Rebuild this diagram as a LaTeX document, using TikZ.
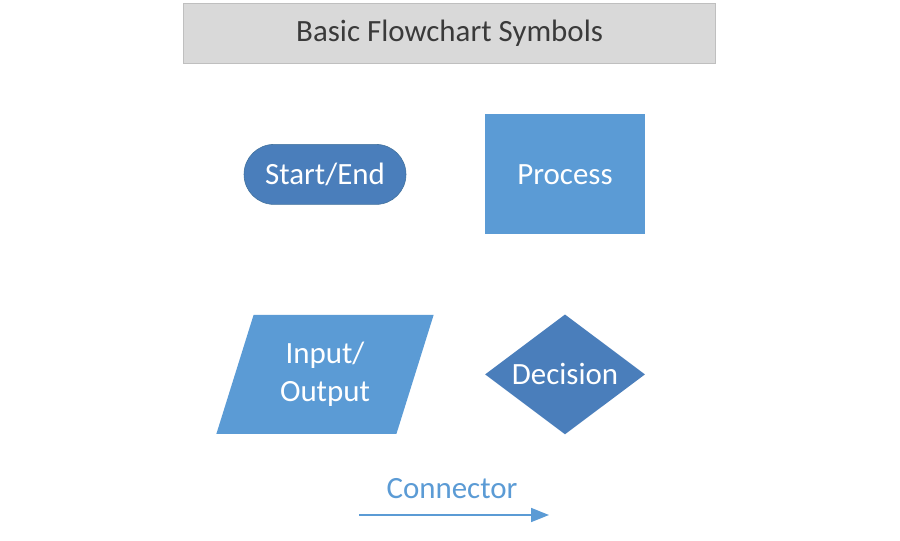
\documentclass[tikz,border=0pt]{standalone}
\usepackage{fontspec}
\setmainfont{Carlito}
\usepackage{tikz}
\usetikzlibrary{arrows.meta,shapes,positioning,calc}
\definecolor{titlegray}{HTML}{D9D9D9}
\definecolor{titleline}{HTML}{BFBFBF}
\definecolor{titletext}{HTML}{3A3A3A}
\definecolor{darkblue}{HTML}{4A7EBB}
\definecolor{lightblue}{HTML}{5B9BD5}
\definecolor{edgeblue}{HTML}{41719C}
\tikzset{
    heading/.style={
        rectangle,
        draw=titleline,
        fill=titlegray,
        line width=1pt,
        text=titletext,
        minimum width=13.3cm,
        minimum height=1.5cm,
        font=\fontsize{22}{26}\selectfont,
    },
    terminal/.style={
        rectangle,
        rounded corners=0.75cm,
        draw=edgeblue,
        fill=darkblue,
        text=white,
        minimum width=4.05cm,
        minimum height=1.5cm,
        font=\fontsize{22}{26}\selectfont,
    },
    proc/.style={
        rectangle,
        fill=lightblue,
        text=white,
        minimum width=4cm,
        minimum height=3cm,
        font=\fontsize{22}{26}\selectfont,
    },
    inout/.style={
        trapezium,
        trapezium left angle=70,
        trapezium right angle=110,
        trapezium stretches=true,
        fill=lightblue,
        text=white,
        inner sep=0pt,
        minimum width=5.475cm,
        minimum height=2.975cm,
        align=center,
        font=\fontsize{22}{27}\selectfont,
    },
    choice/.style={
        diamond,
        aspect=1.333,
        fill=darkblue,
        text=white,
        inner sep=0pt,
        minimum width=4cm,
        minimum height=3cm,
        font=\fontsize{22}{26}\selectfont,
    },
    link/.style={
        draw=lightblue,
        line width=1.2pt,
        -{Triangle[length=0.45cm,width=0.35cm]},
    },
    node distance=6cm,
  }

\begin{document}
\begin{tikzpicture}
  \useasboundingbox (0,0) rectangle (22.5,13.5);
  \fill[white] (0,0) rectangle (22.5,13.5);

  \node [heading] (title) at (11.24,12.66) {Basic Flowchart Symbols};
  \node [terminal] (startend) at (8.125,9.14) {Start/End};
  \node [proc,right of=startend] (process) {Process};
  \node [inout,below of=startend,node distance=5cm] (io) {Input/\\Output};
  \node [choice,below of=process,node distance=5cm] (decision) {Decision};

  \coordinate (c0) at (8.975,0.625);
  \coordinate (c1) at (13.725,0.625);
  \draw [link] (c0) -- (c1);
  \node [text=lightblue,font=\fontsize{22}{26}\selectfont] (conntext) at (11.3,1.275) {Connector};
\end{tikzpicture}
\end{document}
